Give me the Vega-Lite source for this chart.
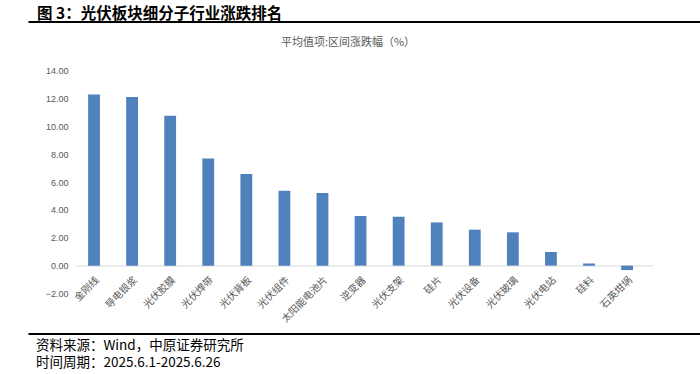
{
  "$schema": "https://vega.github.io/schema/vega-lite/v6.json",
  "padding": {"left": 28, "top": 6.5, "right": 0, "bottom": 0},
  "bounds": "flush",
  "center": true,
  "spacing": 40,
  "config": {
    "view": {"stroke": null},
    "font": "Noto Sans CJK SC"
  },
  "vconcat": [
    {
      "width": 672,
      "height": 9,
      "title": {
        "text": "图 3：光伏板块细分子行业涨跌排名",
        "anchor": "start",
        "frame": "group",
        "dx": 9,
        "offset": -1,
        "font": "Noto Sans CJK SC",
        "fontSize": 15.5,
        "fontWeight": "bold",
        "color": "#000000"
      },
      "data": {"values": [{"v": 0.5}]},
      "mark": {"type": "point", "opacity": 0},
      "encoding": {
        "x": {
          "field": "v",
          "type": "quantitative",
          "scale": {"domain": [0, 1]},
          "axis": {
            "orient": "top",
            "title": null,
            "labels": false,
            "ticks": false,
            "grid": false,
            "domainColor": "#000000",
            "domainWidth": 2
          }
        }
      }
    },
    {
      "width": 578,
      "height": 223,
      "title": {
        "text": "平均值项:区间涨跌幅（%）",
        "anchor": "middle",
        "dx": -16,
        "offset": 19,
        "font": "Noto Sans CJK SC",
        "fontSize": 11,
        "fontWeight": "normal",
        "color": "#595959"
      },
      "data": {
        "values": [
          {"sector": "金刚线", "value": 12.28},
          {"sector": "导电银浆", "value": 12.09},
          {"sector": "光伏胶膜", "value": 10.75},
          {"sector": "光伏焊带", "value": 7.69},
          {"sector": "光伏背板", "value": 6.57},
          {"sector": "光伏组件", "value": 5.37},
          {"sector": "太阳能电池片", "value": 5.21},
          {"sector": "逆变器", "value": 3.56},
          {"sector": "光伏支架", "value": 3.51},
          {"sector": "硅片", "value": 3.10},
          {"sector": "光伏设备", "value": 2.58},
          {"sector": "光伏玻璃", "value": 2.39},
          {"sector": "光伏电站", "value": 0.98},
          {"sector": "硅料", "value": 0.16},
          {"sector": "石英坩埚", "value": -0.32}
        ]
      },
      "mark": {"type": "bar", "color": "#4F81BD"},
      "encoding": {
        "x": {
          "field": "sector",
          "type": "nominal",
          "sort": null,
          "scale": {"paddingInner": 0.69, "paddingOuter": 0.435, "align": 0.396},
          "axis": {
            "title": null,
            "offset": -28,
            "ticks": false,
            "domainColor": "#D9D9D9",
            "domainWidth": 1,
            "labelAngle": -45,
            "labelFont": "Noto Sans CJK SC",
            "labelFontSize": 10,
            "labelColor": "#595959",
            "labelOverlap": false,
            "labelLimit": 200,
            "labelPadding": 9
          }
        },
        "y": {
          "field": "value",
          "type": "quantitative",
          "scale": {"domain": [-2, 14], "nice": false, "zero": false},
          "axis": {
            "title": null,
            "values": [-2, 0, 2, 4, 6, 8, 10, 12, 14],
            "format": ".2f",
            "domain": false,
            "ticks": false,
            "grid": false,
            "labelFont": "Liberation Sans",
            "labelFontSize": 9,
            "labelColor": "#595959",
            "labelPadding": 7
          }
        }
      }
    },
    {
      "width": 672,
      "height": 0,
      "title": {
        "text": ["资料来源：Wind，中原证券研究所", "时间周期：2025.6.1-2025.6.26"],
        "orient": "bottom",
        "anchor": "start",
        "frame": "group",
        "dx": 8,
        "offset": -15,
        "lineHeight": 17.5,
        "font": "Noto Sans CJK SC",
        "fontSize": 13.5,
        "fontWeight": "normal",
        "color": "#000000"
      },
      "data": {"values": [{"v": 0.5}]},
      "mark": {"type": "point", "opacity": 0},
      "encoding": {
        "x": {
          "field": "v",
          "type": "quantitative",
          "scale": {"domain": [0, 1]},
          "axis": {
            "orient": "top",
            "title": null,
            "labels": false,
            "ticks": false,
            "grid": false,
            "domainColor": "#000000",
            "domainWidth": 2
          }
        }
      }
    }
  ]
}
